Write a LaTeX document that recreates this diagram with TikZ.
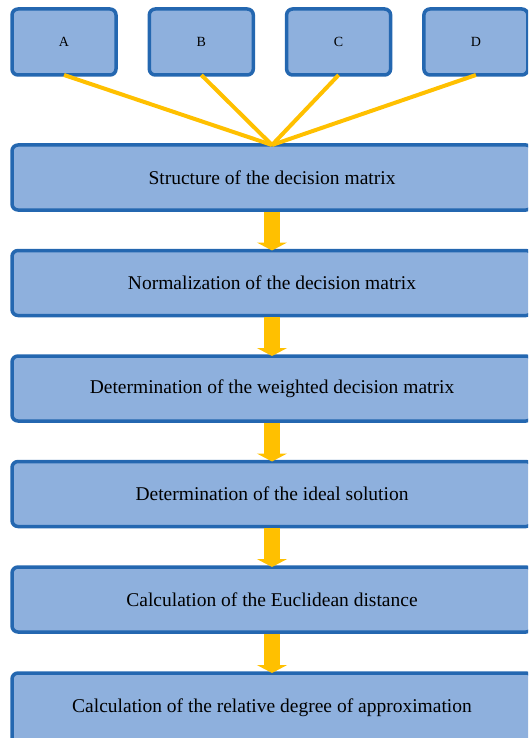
\documentclass[tikz,border=0pt]{standalone}
\usepackage{fontspec}
\setmainfont{Liberation Serif}
\usetikzlibrary{positioning, arrows.meta}

\definecolor{boxfill}{HTML}{8EB0DD}
\definecolor{boxline}{HTML}{2467B0}
\definecolor{gold}{HTML}{FFC000}

\begin{document}
\begin{tikzpicture}[
    src/.style={draw=boxline, fill=boxfill, line width=3.5pt, rounded corners=6pt,
      outer sep=0pt, minimum width=104pt, minimum height=66pt,
      font=\fontsize{14}{16}\selectfont},
    stage/.style={draw=boxline, fill=boxfill, line width=3.5pt, rounded corners=6pt,
      outer sep=0pt, minimum width=520pt, minimum height=65pt,
      font=\fontsize{19.5}{23}\selectfont},
    link/.style={draw=gold, line width=4pt},
    flow/.style={draw=gold, line width=16pt, shorten <=1.8pt,
      -{Triangle[width=30pt, length=8pt]}}
  ]
  \useasboundingbox (0,0) rectangle (528pt,-738pt);
  \clip (0,0) rectangle (528pt,-738pt);

  % input boxes
  \node[src] (a) at (64pt,-42pt) {A};
  \node[src, right=33.3pt of a] (b) {B};
  \node[src, right=33.3pt of b] (c) {C};
  \node[src, right=33.3pt of c] (d) {D};

  % steps
  \node[stage] (s1) at (272pt,-177.5pt) {Structure of the decision matrix};
  \node[stage, below=40.5pt of s1] (s2) {Normalization of the decision matrix};
  \node[stage, below=40.5pt of s2] (s3) {Determination of the weighted decision matrix};
  \node[stage, below=40.5pt of s3] (s4) {Determination of the ideal solution};
  \node[stage, below=40.5pt of s4] (s5) {Calculation of the Euclidean distance};
  \node[stage, below=41pt of s5, minimum height=70pt] (s6) {Calculation of the relative degree of approximation};

  \foreach \n in {a,b,c,d}
    \draw[link] (\n.south) -- (s1.north);

  \draw[flow] (s1.south) -- (s2.north);
  \draw[flow] (s2.south) -- (s3.north);
  \draw[flow] (s3.south) -- (s4.north);
  \draw[flow] (s4.south) -- (s5.north);
  \draw[flow] (s5.south) -- (s6.north);
\end{tikzpicture}
\end{document}
